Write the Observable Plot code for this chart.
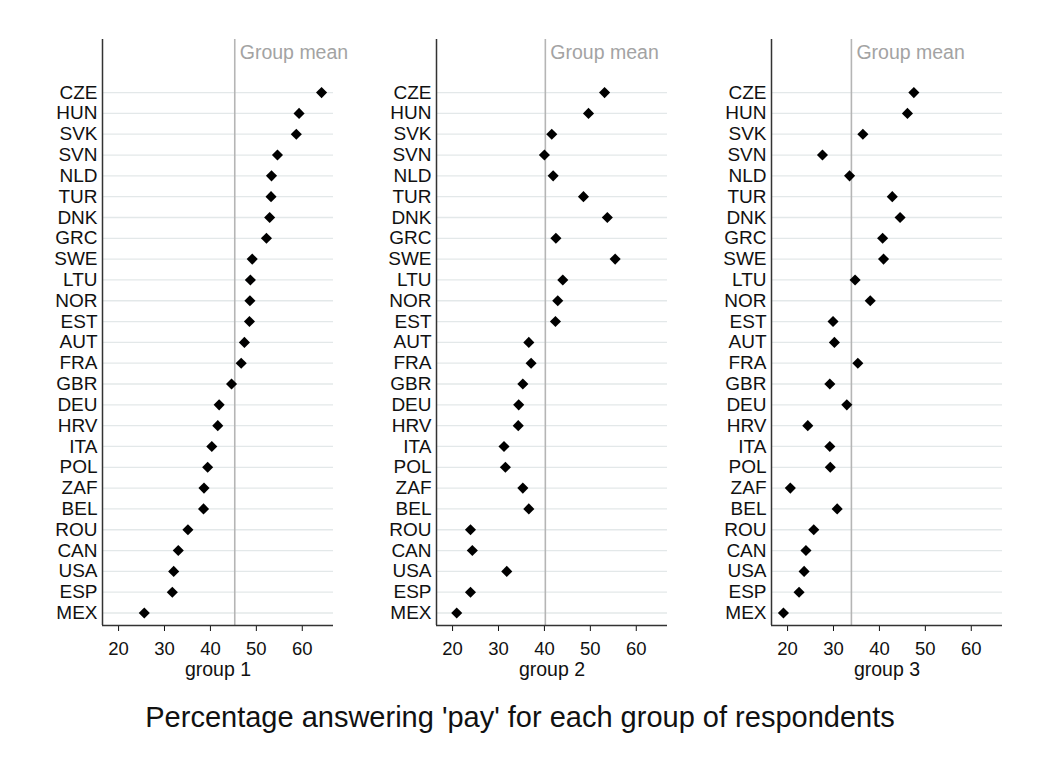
<!DOCTYPE html>
<html>
<head>
<meta charset="utf-8">
<script src="https://cdn.jsdelivr.net/npm/d3@7"></script>
<script src="https://cdn.jsdelivr.net/npm/@observablehq/plot@0.6"></script>
<style>
  html, body { margin: 0; padding: 0; background: #fff; }
  #chart { position: relative; width: 1038px; height: 758px; background: #fff;
           font-family: "Liberation Sans", Arial, sans-serif; }
  .panel { position: absolute; top: 0; }
  .panel svg { overflow: visible; }
  #title { position: absolute; left: 0; width: 1040px; top: 701px; text-align: center;
           font-size: 29px; color: #111; line-height: normal; white-space: nowrap; }
</style>
</head>
<body>
<div id="chart">
  <div class="panel" id="p0" style="left:0px"></div>
  <div class="panel" id="p1" style="left:334px"></div>
  <div class="panel" id="p2" style="left:669px"></div>
  <div id="title">Percentage answering 'pay' for each group of respondents</div>
</div>
<script>
// Countries, top to bottom (ordered by group 1)
const countries = ["CZE","HUN","SVK","SVN","NLD","TUR","DNK","GRC","SWE","LTU","NOR","EST","AUT",
                   "FRA","GBR","DEU","HRV","ITA","POL","ZAF","BEL","ROU","CAN","USA","ESP","MEX"];

// Percentage answering 'pay', one value per country, same order
const group1 = [64.2,59.3,58.7,54.6,53.3,53.2,52.9,52.2,49.1,48.7,48.6,48.5,47.4,
                46.7,44.6,41.9,41.6,40.3,39.4,38.6,38.5,35.1,33.0,32.0,31.7,25.6];
const group2 = [53.1,49.6,41.6,40.0,41.9,48.5,53.7,42.5,55.4,44.0,42.9,42.4,36.6,
                37.1,35.3,34.4,34.3,31.2,31.5,35.3,36.6,23.9,24.3,31.8,23.9,20.9];
const group3 = [47.5,46.1,36.4,27.6,33.5,42.8,44.5,40.7,40.9,34.7,38.0,29.9,30.2,
                35.3,29.2,32.9,24.4,29.2,29.3,20.6,30.8,25.7,24.0,23.6,22.5,19.1];

const groupNames = ["group 1", "group 2", "group 3"];
const groupMeans = [45.3, 40.2, 33.9];
const xTicks = [20, 30, 40, 50, 60];

const series = [group1, group2, group3];
const xDomain = [16.5, 66.8];
const yDomain = [25.6, -2.55];   // row index; the rows above CZE hold the mean label
const rowIndex = countries.map((_, i) => i);

series.forEach((values, g) => {
  const rows = countries.map((c, i) => ({country: c, idx: i, value: values[i]}));
  const chart = Plot.plot({
    width: 336,
    height: 690,
    marginLeft: 102,
    marginRight: 3,
    marginTop: 39,
    marginBottom: 65,
    style: {fontFamily: '"Liberation Sans", Arial, sans-serif', fontSize: "18.5px", color: "#111",
            background: "transparent", overflow: "visible"},
    x: {domain: xDomain, ticks: xTicks, tickSize: 6, tickPadding: 10, label: null, tickFormat: d => String(d)},
    y: {domain: yDomain, ticks: rowIndex, tickFormat: i => countries[i], tickSize: 0, tickPadding: 5, label: null},
    marks: [
      Plot.ruleY(rowIndex, {stroke: "#e3e8e9", strokeWidth: 1.3}),
      Plot.ruleX([groupMeans[g]], {stroke: "#b5b5b5", strokeWidth: 1.6}),
      Plot.text([groupMeans[g]], {x: d => d, frameAnchor: "top", text: () => "Group mean",
        textAnchor: "start", lineAnchor: "bottom", dx: 5, dy: 19, fontSize: 19.5, fill: "#a3a3a3"}),
      Plot.ruleX([xDomain[0]], {stroke: "#333", strokeWidth: 1.5}),
      Plot.ruleY([yDomain[0]], {stroke: "#333", strokeWidth: 1.5}),
      Plot.dot(rows, {x: "value", y: "idx", symbol: "diamond2", r: 5, fill: "#000", stroke: "none"}),
      Plot.text([groupNames[g]], {frameAnchor: "bottom", text: d => d, textAnchor: "middle",
        lineAnchor: "bottom", dy: 50, fontSize: 19.5, fill: "#111"})
    ]
  });
  // country labels a touch larger than the value ticks
  chart.querySelectorAll('[aria-label="y-axis tick label"] text').forEach(t => t.setAttribute("font-size", "19px"));
  document.getElementById("p" + g).appendChild(chart);
});
</script>
</body>
</html>
